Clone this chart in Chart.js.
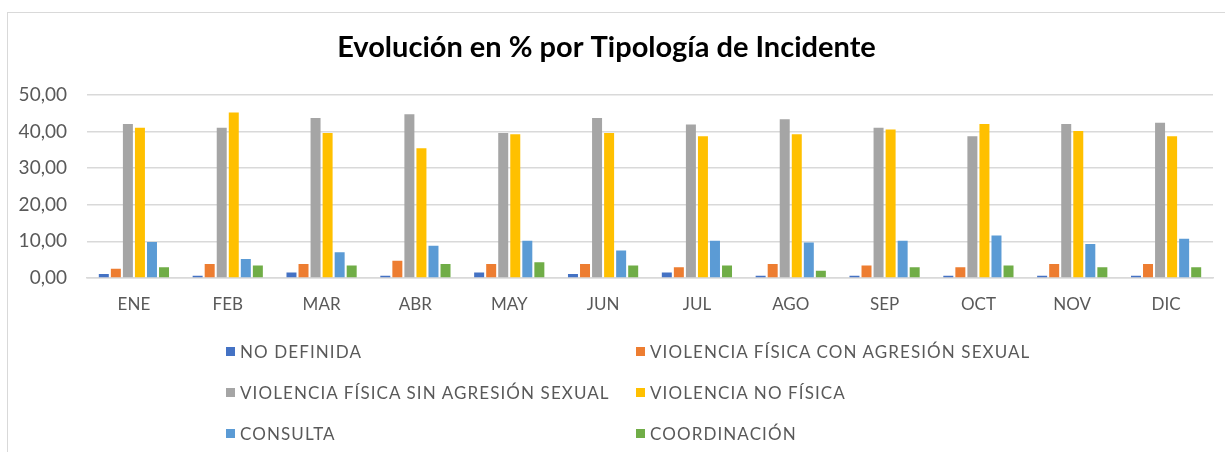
<!DOCTYPE html>
<html lang="es">
<head>
<meta charset="utf-8">
<script src="https://cdn.jsdelivr.net/npm/chart.js@4/dist/chart.umd.min.js"></script>
<style>
  html, body { margin: 0; padding: 0; background: #fff; }
  #marco {
    position: absolute; left: 7px; top: 12px; width: 1300px; height: 500px;
    border-left: 1.5px solid #d9d9d9; border-top: 1.5px solid #d9d9d9;
  }
  #contenedor { position: absolute; left: 0; top: 0; width: 1225px; height: 452px; }
  #leyenda {
    position: absolute; left: 226px; top: 341px;
    display: grid; grid-template-columns: 410px 400px; row-gap: 21px;
    font-family: Lato, "Open Sans", sans-serif; font-size: 17px; color: #595959;
    letter-spacing: 1.1px;
  }
  #leyenda div { display: flex; align-items: center; height: 20px; white-space: nowrap; }
  #leyenda span.caja { width: 9px; height: 9px; margin-right: 5px; display: inline-block; }
</style>
</head>
<body>
<div id="marco"></div>
<div id="contenedor"><canvas id="grafica" width="1225" height="452"></canvas></div>
<div id="leyenda"></div>
<script>
// Meses (etiquetas del eje X)
const meses = ["ENE", "FEB", "MAR", "ABR", "MAY", "JUN", "JUL", "AGO", "SEP", "OCT", "NOV", "DIC"];

// Porcentajes por tipología
const noDefinida      = [1.1, 0.6, 1.5, 0.6, 1.5, 1.1, 1.5, 0.6, 0.6, 0.6, 0.6, 0.6];
const conAgresion     = [2.5, 3.8, 3.8, 4.7, 3.8, 3.8, 2.9, 3.8, 3.4, 2.9, 3.8, 3.8];
const sinAgresion     = [42.0, 41.0, 43.7, 44.7, 39.6, 43.7, 41.9, 43.3, 41.0, 38.7, 42.0, 42.4];
const noFisica        = [41.0, 45.2, 39.6, 35.4, 39.2, 39.6, 38.7, 39.2, 40.5, 42.0, 40.1, 38.7];
const consulta        = [9.8, 5.2, 7.0, 8.8, 10.2, 7.5, 10.2, 9.7, 10.2, 11.6, 9.3, 10.7];
const coordinacion    = [2.9, 3.4, 3.4, 3.8, 4.3, 3.4, 3.4, 2.0, 2.9, 3.4, 2.9, 2.9];

// Ticks del eje Y
const ticksY = [0, 10, 20, 30, 40, 50];

const series = [
    { label: "NO DEFINIDA", data: noDefinida, color: "#4472C4" },
    { label: "VIOLENCIA FÍSICA CON AGRESIÓN SEXUAL", data: conAgresion, color: "#ED7D31" },
    { label: "VIOLENCIA FÍSICA SIN AGRESIÓN SEXUAL", data: sinAgresion, color: "#A5A5A5" },
    { label: "VIOLENCIA NO FÍSICA", data: noFisica, color: "#FFC000" },
    { label: "CONSULTA", data: consulta, color: "#5B9BD5" },
    { label: "COORDINACIÓN", data: coordinacion, color: "#70AD47" }
];

const fuente = 'Lato, "Open Sans", sans-serif';

const $grafica = document.querySelector("#grafica");

const grafico = new Chart($grafica, {
    type: 'bar',
    data: {
        labels: meses,
        datasets: series.map(s => ({
            label: s.label,
            data: s.data,
            backgroundColor: s.color,
            borderWidth: 0,
            barPercentage: 0.83,
            categoryPercentage: 0.77
        }))
    },
    options: {
        responsive: false,
        animation: false,
        layout: { padding: { left: 0, right: 12, top: 0, bottom: 0 } },
        plugins: {
            legend: { display: false },
            tooltip: { enabled: false },
            title: {
                display: true,
                text: "Evolución en % por Tipología de Incidente",
                color: "#000",
                font: { family: fuente, size: 29, weight: 'bold' },
                padding: { top: 30, bottom: 30 }
            }
        },
        scales: {
            x: {
                grid: { display: false, drawTicks: false },
                border: { color: "#d9d9d9", width: 1.5 },
                ticks: { color: "#595959", font: { family: fuente, size: 17 }, padding: 16 },
                afterFit: (escala) => { escala.height = 45; }
            },
            y: {
                min: 0,
                max: 50,
                afterBuildTicks: (escala) => { escala.ticks = ticksY.map(v => ({ value: v })); },
                grid: { color: "#d9d9d9", lineWidth: 1.5, drawTicks: false },
                border: { display: false },
                ticks: {
                    color: "#595959",
                    font: { family: fuente, size: 19 },
                    padding: 20,
                    callback: (v) => v.toFixed(2).replace(".", ",")
                },
                afterFit: (escala) => { escala.width = 87; }
            }
        }
    },
    plugins: [{
        id: 'margenInferior',
        beforeLayout: (chart) => { chart.options.layout.padding.bottom = 452 - 323; }
    }]
});

// Leyenda en dos columnas construida a partir de los datasets
const $leyenda = document.querySelector("#leyenda");
grafico.data.datasets.forEach(ds => {
    const item = document.createElement("div");
    const caja = document.createElement("span");
    caja.className = "caja";
    caja.style.background = ds.backgroundColor;
    item.appendChild(caja);
    item.appendChild(document.createTextNode(ds.label));
    $leyenda.appendChild(item);
});
</script>
</body>
</html>
